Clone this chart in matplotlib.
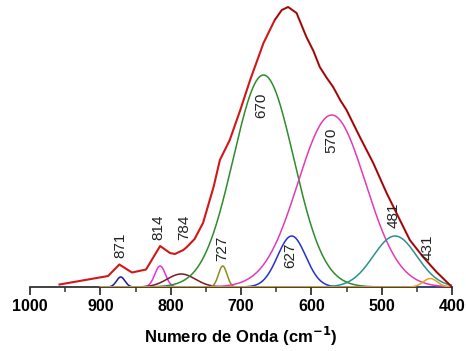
import numpy as np
import matplotlib
matplotlib.use("Agg")
import matplotlib.pyplot as plt

plt.rcParams['font.family'] = ['Liberation Sans', 'DejaVu Sans']

wavenumber = [958, 889, 873, 855, 835, 815, 801, 794, 782, 777, 766, 754, 739,
              730, 716, 701, 687, 668, 652, 642, 633, 621, 607, 597, 588, 578,
              569, 559, 550, 531, 512, 493, 479, 460, 441, 422, 403, 400]
intensity = [2.5, 11, 22.5, 14.5, 17.5, 41, 34, 33, 37, 40, 48, 64, 100,
             127, 147, 177, 207, 244, 267, 277, 280, 274, 250, 236, 220, 209,
             200, 187, 177, 150, 124, 94, 74, 47, 30, 15, 2, 0]

# Fitted components: centre, height, width (sigma)
peak_labels = ['871', '814', '784', '727', '670', '627', '570', '481', '431']
peak_centers = [871, 815, 785, 726, 668, 628, 571, 481, 431]
peak_heights = [10, 21, 13, 21, 212, 51, 172, 51, 8.5]
peak_widths = [6, 7.5, 20, 6, 43, 20, 48, 31, 10]
peak_colors = ['#1c1c90', '#e830e8', '#7a1a1a', '#8c8c20', '#2e8b2e',
               '#2233cc', '#e03cb8', '#2a9090', '#e8a020']

# Label positions (layout)
label_x = [872, 818, 780, 727, 671, 630, 571, 483, 435]
label_y = [42, 60, 60, 39, 182, 32, 147, 72, 40]

fig = plt.figure(figsize=(4.66, 3.51), dpi=100)
ax = fig.add_axes([30/466, 64/351, 422/466, 287/351])

xg = np.linspace(900, 400, 1001)
for c, h, s, col in zip(peak_centers, peak_heights, peak_widths, peak_colors):
    ax.plot(xg, h*np.exp(-(xg-c)**2/(2*s**2)), color=col, lw=1.1, zorder=3)

w = np.array(wavenumber)
i = np.array(intensity)
ax.plot(w, i, color='#d01818', lw=1.5, zorder=4)
m = w <= 660
ax.plot(w[m], i[m], color='#300000', lw=0.6, alpha=0.6, zorder=5)

for t, x, y in zip(peak_labels, label_x, label_y):
    ax.text(x, y, t, rotation=90, ha='center', va='center', fontsize=11,
            color='#222222', zorder=6)

ax.set_xlim(1000, 400)
ax.set_ylim(0, 287)
for s in ['top', 'right', 'left']:
    ax.spines[s].set_visible(False)
ax.spines['bottom'].set_color('#333333')
ax.spines['bottom'].set_linewidth(1.3)
ax.set_yticks([])
ax.set_xticks(np.arange(1000, 399, -100))
ax.set_xticks(np.arange(950, 400, -100), minor=True)
ax.tick_params(axis='x', which='major', direction='out', length=6, width=1.3,
               color='#333333', labelsize=11.5, pad=2.5)
ax.tick_params(axis='x', which='minor', direction='out', length=3.5, width=1.1,
               color='#333333')
for lab in ax.get_xticklabels():
    lab.set_fontweight('bold')
ax.set_xlabel('Numero de Onda (cm$^{\\mathbf{-1}}$)', fontsize=12,
              fontweight='bold', labelpad=8)
ax.patch.set_alpha(0)

fig.savefig('out.png', dpi=100)
